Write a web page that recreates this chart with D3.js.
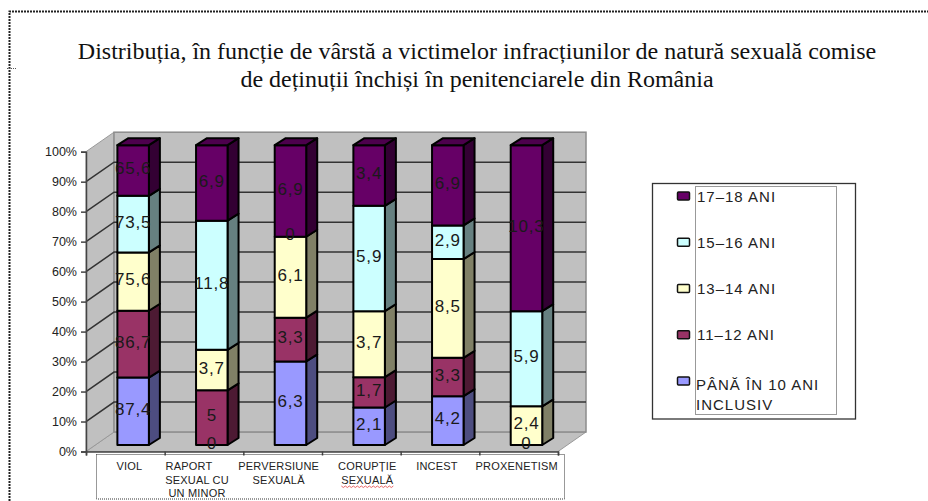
<!DOCTYPE html>
<html><head><meta charset="utf-8">
<script src="https://cdn.jsdelivr.net/npm/d3@7"></script>
<style>html,body{margin:0;padding:0;background:#fff;overflow:hidden}svg{display:block}</style>
</head><body><svg id="c" width="928" height="501"></svg>
<script>
const categories = [["VIOL"],["RAPORT","SEXUAL CU","UN MINOR"],["PERVERSIUNE","SEXUALĂ"],["CORUPȚIE","SEXUALĂ"],["INCEST"],["PROXENETISM"]];
const seriesNames = ["PÂNĂ ÎN 10 ANI INCLUSIV","11–12 ANI","13–14 ANI","15–16 ANI","17–18 ANI"];
const upTo10 = [87.4,0,6.3,2.1,4.2,null];
const age11 = [86.7,5,3.3,1.7,3.3,0];
const age13 = [75.6,3.7,6.1,3.7,8.5,2.4];
const age15 = [73.5,11.8,0,5.9,2.9,5.9];
const age17 = [65.6,6.9,6.9,3.4,6.9,10.3];
const yTicks = [0,10,20,30,40,50,60,70,80,90,100];
const fills = ["#9999ff","#993366","#ffffcc","#ccffff","#660066"];
const sides = ["#4d4d80","#4d1a33","#808066","#668080","#330033"];
const catDx = [4,-7,-4,6,-3,-2];

const rows = [upTo10,age11,age13,age15,age17];
const svg = d3.select("#c");
const W = {x0:86,x1:558,y0:451.5,y1:151.7,dx:28,dy:19.5};
const B = {dx:11,dy:7,ox:7.8,oy:6.5,w:31.5};
const y = d3.scaleLinear().domain([0,100]).range([W.y0,W.y1]);
const x = d3.scaleBand().domain(d3.range(categories.length)).range([W.x0,W.x1]);
const poly = pts => pts.map(p=>p.join(",")).join(" ");

// page frame
svg.append("path").attr("d","M9.5,501V11.5H928").attr("fill","none").attr("stroke","#222").attr("stroke-width",2).attr("stroke-dasharray","2 1");
svg.append("path").attr("d","M7,68.5H16").attr("stroke","#555").attr("stroke-dasharray","1 1");

// title
const title = svg.append("g").attr("font-family","'Liberation Serif',serif").attr("font-size",24).attr("fill","#111").attr("text-anchor","middle");
title.append("text").attr("x",477).attr("y",59).text("Distribuția, în funcție de vârstă a victimelor infracțiunilor de natură sexuală comise");
title.append("text").attr("x",477).attr("y",87).text("de deținuții închiși în penitenciarele din România");

// walls and floor
const wall = "#c0c0c0";
svg.append("polygon").attr("points",poly([[W.x0,W.y0],[W.x0+W.dx,W.y0-W.dy],[W.x1+W.dx,W.y0-W.dy],[W.x1,W.y0]])).attr("fill",wall).attr("stroke","#999");
svg.append("polygon").attr("points",poly([[W.x0,W.y1],[W.x0+W.dx,W.y1-W.dy],[W.x0+W.dx,W.y0-W.dy],[W.x0,W.y0]])).attr("fill",wall).attr("stroke","#999");
svg.append("rect").attr("x",W.x0+W.dx).attr("y",W.y1-W.dy).attr("width",W.x1-W.x0).attr("height",W.y0-W.y1).attr("fill",wall).attr("stroke","#8c8c8c").attr("stroke-width",1.5);

// gridlines
const grid = svg.append("g").attr("stroke","#333").attr("stroke-width",1.5).attr("fill","none");
yTicks.filter(t=>t>0&&t<100).forEach(t=>{
  grid.append("path").attr("d",`M${W.x0},${y(t)}L${W.x0+W.dx},${y(t)-W.dy}H${W.x1+W.dx}`);
});

// axes
const yAxis = d3.axisLeft(y).tickValues(yTicks).tickFormat(d=>d+"%").tickSize(5).tickPadding(4);
const yG = svg.append("g").attr("transform",`translate(${W.x0},0)`).call(yAxis);
yG.selectAll("text").attr("font-family","'Liberation Sans',sans-serif").attr("font-size",12.5).attr("fill","#222");
yG.selectAll("line,path").attr("stroke","#444").attr("stroke-width",1.5);
const xAxis = d3.axisBottom(d3.scaleLinear().domain([0,6]).range([W.x0,W.x1])).ticks(6).tickFormat("").tickSize(4).tickSizeOuter(4);
const xG = svg.append("g").attr("transform",`translate(0,${W.y0})`).call(xAxis);
xG.selectAll("line,path").attr("stroke","#444").attr("stroke-width",1.5);

// stacked 3D bars
const labels = [];
categories.forEach((c,i)=>{
  const total = d3.sum(rows,r=>r[i]||0);
  const xl = x(i)+x.bandwidth()/2+B.ox-B.w/2, xr = xl+B.w;
  let cum = 0;
  const g = svg.append("g").attr("stroke","#000").attr("stroke-width",2).attr("stroke-linejoin","round");
  rows.forEach((r,s)=>{
    const v = r[i];
    if(v===null) return;
    const y0 = y(cum/total*100)-B.oy;
    cum += v;
    const y1 = y(cum/total*100)-B.oy;
    labels.push({v,x:(xl+xr)/2,y:(y0+y1)/2-2.5});
    if(v===0) return;
    g.append("polygon").attr("points",poly([[xr,y0],[xr+B.dx,y0-B.dy],[xr+B.dx,y1-B.dy],[xr,y1]])).attr("fill",sides[s]);
    g.append("rect").attr("x",xl).attr("y",y1).attr("width",B.w).attr("height",y0-y1).attr("fill",fills[s]);
    if(cum>=total-1e-9) g.append("polygon").attr("points",poly([[xl,y1],[xl+B.dx,y1-B.dy],[xr+B.dx,y1-B.dy],[xr,y1]])).attr("fill","#4d004d");
  });
});

// data labels
svg.append("g").selectAll("text").data(labels).join("text")
  .attr("x",d=>d.x).attr("y",d=>d.y).attr("dy","0.36em").attr("text-anchor","middle")
  .attr("font-family","'Liberation Sans',sans-serif").attr("font-size",17).attr("letter-spacing",0.8).attr("fill","#1a1a1a")
  .text(d=>String(d.v).replace(".",","));

// category labels
const dotted = s=>s.attr("fill","none").attr("stroke","#333").attr("stroke-dasharray","1 1");
svg.append("rect").attr("x",96.5).attr("y",454.5).attr("width",468).attr("height",44.5).call(dotted);
const cg = svg.append("g").attr("font-family","'Liberation Sans',sans-serif").attr("font-size",11).attr("letter-spacing",0.2).attr("fill","#222").attr("text-anchor","middle");
categories.forEach((lines,i)=>{
  const cx = x(i)+x.bandwidth()/2+catDx[i];
  lines.forEach((l,k)=>cg.append("text").attr("x",cx-(l==="RAPORT"?8:0)).attr("y",470+k*13.5).text(l));
});
const squigX = x(3)+x.bandwidth()/2+catDx[3];
svg.append("path").attr("d",d3.line().curve(d3.curveLinear)(d3.range(-26,27,2).map((d,k)=>[squigX+d,486+(k%2)*1.5]))).attr("fill","none").attr("stroke","#e04040").attr("stroke-width",0.8);

// legend
svg.append("rect").attr("x",652.5).attr("y",183.5).attr("width",203).attr("height",235.5).attr("fill","#fff").attr("stroke","#333").attr("stroke-width",1.3);
svg.append("rect").attr("x",695.5).attr("y",186.5).attr("width",141).attr("height",228).call(dotted);
const lg = d3.scaleLinear().domain([4,0]).range([196,381]);
seriesNames.forEach((n,s)=>{
  svg.append("rect").attr("x",677.5).attr("y",lg(s)-4).attr("width",12).attr("height",8).attr("fill",fills[s]).attr("stroke","#111").attr("stroke-width",1.5).attr("rx",1);
  const t = svg.append("text").attr("font-family","'Liberation Sans',sans-serif").attr("font-size",15).attr("letter-spacing",1).attr("fill","#222").attr("x",697);
  if(s===0){
    t.append("tspan").attr("x",696).attr("y",390).text("PÂNĂ ÎN 10 ANI");
    t.append("tspan").attr("x",696).attr("y",410).text("INCLUSIV");
  } else t.attr("y",lg(s)+5.5).text(n);
});
</script></body></html>
